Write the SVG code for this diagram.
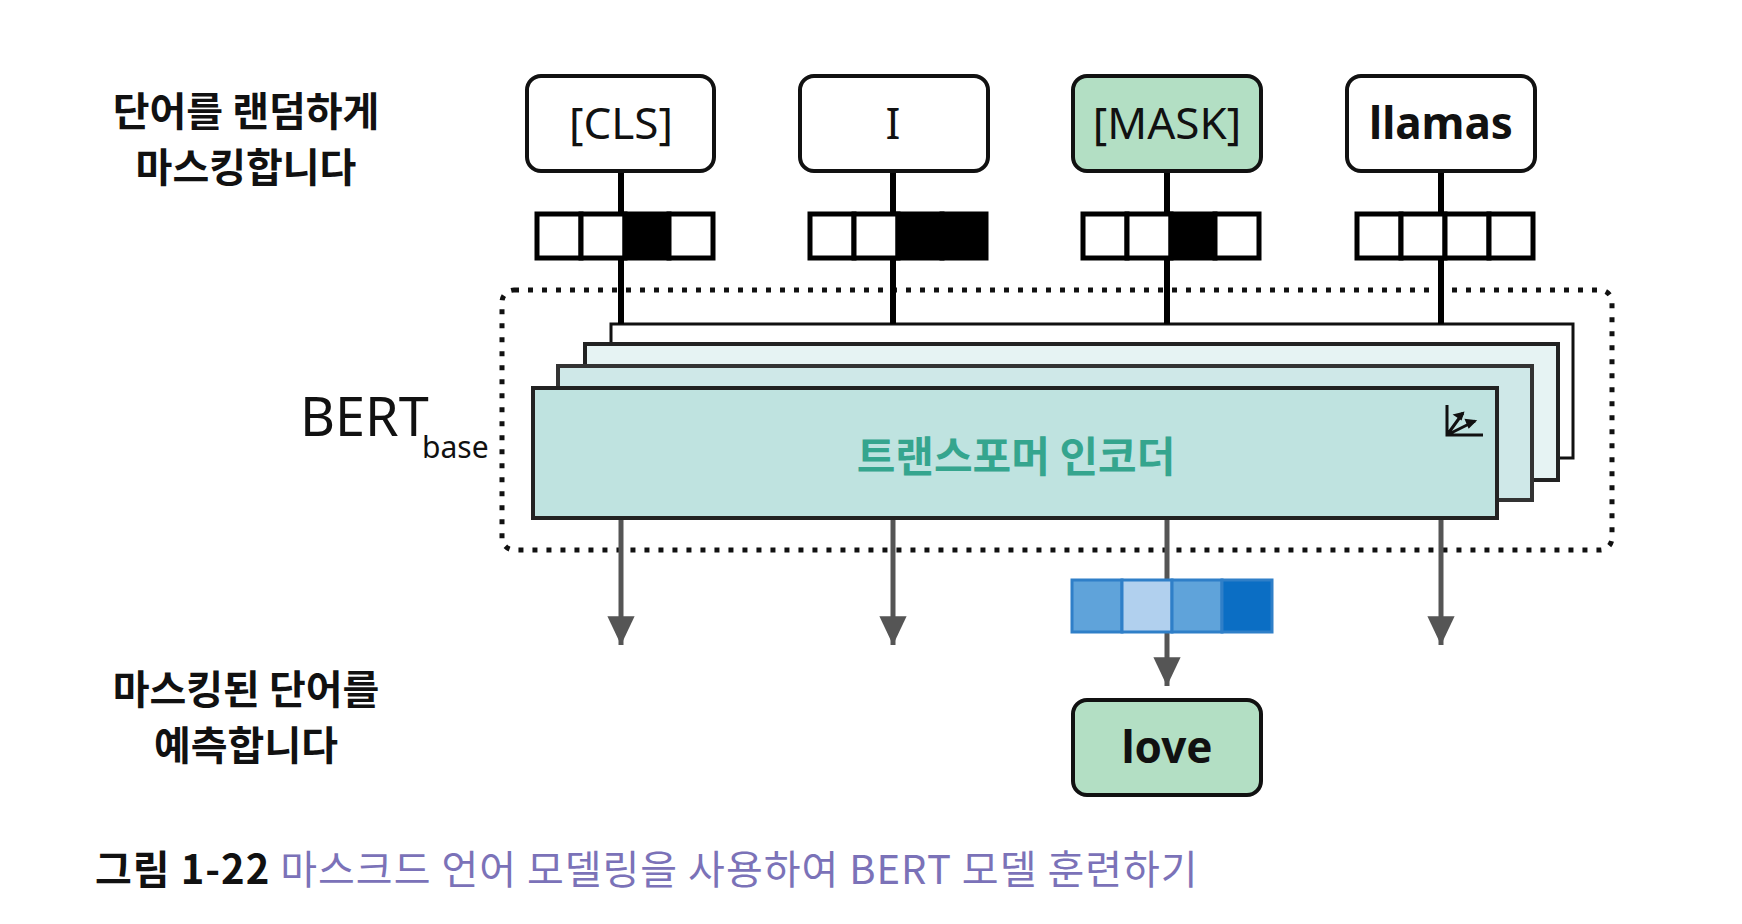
<svg xmlns="http://www.w3.org/2000/svg" width="1742" height="924" viewBox="0 0 1742 924">
<style>
.lbl{font-family:"Noto Sans CJK KR","Noto Sans",sans-serif;font-weight:bold;font-size:40px;fill:#111;text-anchor:middle}
.tok{fill:#fff;stroke:#111;stroke-width:4}
.tokm{fill:#b3dfc4;stroke:#111;stroke-width:4}
.tt{font-family:"Noto Sans","Liberation Sans",sans-serif;font-size:44px;fill:#111;text-anchor:middle}
.cell{stroke:#000;stroke-width:5}
.ln{stroke:#000;stroke-width:6}
.ar{stroke:#555;stroke-width:5}
</style>
<defs><marker id="ah" viewBox="0 0 10 10" refX="9" refY="5" markerWidth="8" markerHeight="8" markerUnits="userSpaceOnUse" orient="auto" style="overflow:visible"><path d="M0,-12 L36,5 L0,22 Z" fill="#555" transform="translate(-27,0)"/></marker></defs>
<rect width="1742" height="924" fill="#fff"/>
<g id="labels">
<text class="lbl" x="246" y="126">단어를 랜덤하게</text>
<text class="lbl" x="246" y="182">마스킹합니다</text>
<text class="lbl" x="246" y="704">마스킹된 단어를</text>
<text class="lbl" x="246" y="760">예측합니다</text>
<text x="300" y="436" font-family="Noto Sans,Liberation Sans,sans-serif" font-size="54" fill="#111">BERT<tspan x="422" y="458" font-size="30">base</tspan></text>
</g>
<g id="bert">
<rect x="502" y="290" width="1110" height="260" rx="12" fill="none" stroke="#111" stroke-width="5" stroke-dasharray="5,9"/>
<rect x="611" y="324" width="962" height="134" fill="#fff" stroke="#111" stroke-width="3"/>
<rect x="585" y="344" width="973" height="136" fill="#e6f3f3" stroke="#222" stroke-width="4"/>
<rect x="558" y="366" width="974" height="134" fill="#cfe8e8" stroke="#333" stroke-width="4"/>
<rect x="533" y="388" width="964" height="130" fill="#bfe3e0" stroke="#222" stroke-width="4"/>
<text x="1016" y="472" font-family="Noto Sans CJK KR,sans-serif" font-size="42" font-weight="bold" fill="#35a58e" text-anchor="middle">트랜스포머 인코더</text>
<path d="M1447,405 v30 h36 M1447,435 l16,-22 M1447,435 l28,-14" stroke="#111" stroke-width="3" fill="none"/>
<path d="M1463,413 l-8,2 l6,4 z M1475,421 l-9,-1 l3,7 z" fill="#111" stroke="#111" stroke-width="2"/>
</g>
<g id="connectors">
<line class="ln" x1="621" y1="171" x2="621" y2="324"/>
<line class="ln" x1="893" y1="171" x2="893" y2="324"/>
<line class="ln" x1="1167" y1="171" x2="1167" y2="324"/>
<line class="ln" x1="1441" y1="171" x2="1441" y2="324"/>
<line class="ar" x1="621" y1="520" x2="621" y2="645" marker-end="url(#ah)"/>
<line class="ar" x1="893" y1="520" x2="893" y2="645" marker-end="url(#ah)"/>
<line class="ar" x1="1167" y1="520" x2="1167" y2="686" marker-end="url(#ah)"/>
<line class="ar" x1="1441" y1="520" x2="1441" y2="645" marker-end="url(#ah)"/>
</g>
<g id="n-cls"><rect class="tok" x="527" y="76" width="187" height="95" rx="14"/><text class="tt" x="621" y="139">[CLS]</text></g>
<g id="n-i"><rect class="tok" x="800" y="76" width="188" height="95" rx="14"/><text class="tt" x="893" y="139">I</text></g>
<g id="n-mask"><rect class="tokm" x="1073" y="76" width="188" height="95" rx="14"/><text class="tt" x="1167" y="139">[MASK]</text></g>
<g id="n-llamas"><rect class="tok" x="1347" y="76" width="188" height="95" rx="14"/><text class="tt" x="1441" y="139" font-weight="bold">llamas</text></g>
<g id="vectors">
<g transform="translate(537,214)"><rect class="cell" x="0" y="0" width="44" height="44" fill="#fff"/><rect class="cell" x="44" y="0" width="44" height="44" fill="#fff"/><rect class="cell" x="88" y="0" width="44" height="44" fill="#000"/><rect class="cell" x="132" y="0" width="44" height="44" fill="#fff"/></g>
<g transform="translate(810,214)"><rect class="cell" x="0" y="0" width="44" height="44" fill="#fff"/><rect class="cell" x="44" y="0" width="44" height="44" fill="#fff"/><rect class="cell" x="88" y="0" width="44" height="44" fill="#000"/><rect class="cell" x="132" y="0" width="44" height="44" fill="#000"/></g>
<g transform="translate(1083,214)"><rect class="cell" x="0" y="0" width="44" height="44" fill="#fff"/><rect class="cell" x="44" y="0" width="44" height="44" fill="#fff"/><rect class="cell" x="88" y="0" width="44" height="44" fill="#000"/><rect class="cell" x="132" y="0" width="44" height="44" fill="#fff"/></g>
<g transform="translate(1357,214)"><rect class="cell" x="0" y="0" width="44" height="44" fill="#fff"/><rect class="cell" x="44" y="0" width="44" height="44" fill="#fff"/><rect class="cell" x="88" y="0" width="44" height="44" fill="#fff"/><rect class="cell" x="132" y="0" width="44" height="44" fill="#fff"/></g>
</g>
<g id="out-vec" stroke="#2f7fc8" stroke-width="3">
<rect x="1072" y="580" width="50" height="52" fill="#5fa3da"/><rect x="1122" y="580" width="50" height="52" fill="#b1d0ee"/><rect x="1172" y="580" width="50" height="52" fill="#5fa3da"/><rect x="1222" y="580" width="50" height="52" fill="#0b6ec4"/>
</g>
<g id="n-love"><rect class="tokm" x="1073" y="700" width="188" height="95" rx="14"/><text class="tt" x="1167" y="763" font-weight="bold">love</text></g>
<g id="caption"><text x="95" y="884" font-family="Noto Sans CJK KR,sans-serif" font-size="40" letter-spacing="1"><tspan font-weight="bold" fill="#111">그림 1-22</tspan><tspan fill="#7b72b8"> 마스크드 언어 모델링을 사용하여 BERT 모델 훈련하기</tspan></text></g>
</svg>
